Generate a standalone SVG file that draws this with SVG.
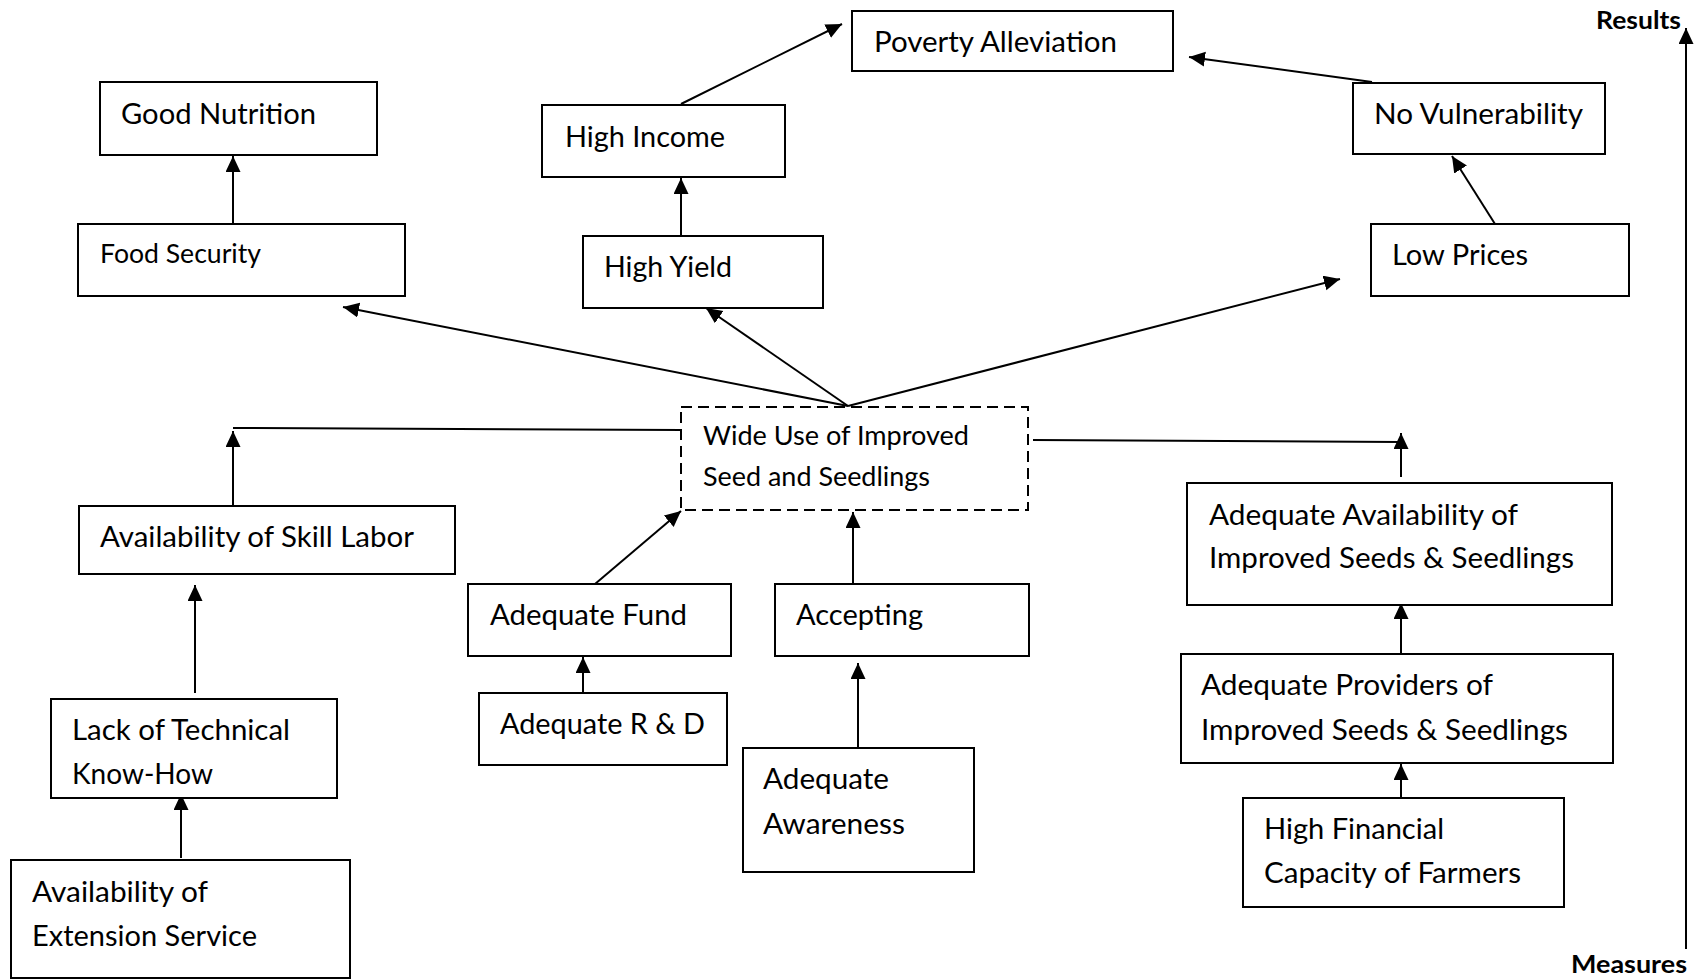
<svg xmlns="http://www.w3.org/2000/svg" width="1695" height="979" viewBox="0 0 1695 979">
  <style>
    .box { fill: #ffffff; stroke: #000000; stroke-width: 2; }
    .dash { fill: #ffffff; stroke: #000000; stroke-width: 2; stroke-dasharray: 11 6; }
    .lbl { font-family: Lato, "Open Sans", "Liberation Sans", sans-serif; font-size: 29px; fill: #000000; }
    .sm { font-size: 26.5px; }
    .axis { font-family: Lato, "Liberation Sans", sans-serif; font-size: 25px; font-weight: bold; fill: #000000; }
    .edge { fill: none; stroke: #000000; stroke-width: 2; }
    .arr { marker-end: url(#head); }
  </style>
  <defs>
    <marker id="head" markerUnits="userSpaceOnUse" markerWidth="18" markerHeight="16" refX="16" refY="7.5" orient="auto">
      <path d="M0,0 L16,7.5 L0,15 Z" fill="#000000"/>
    </marker>
  </defs>
  <rect width="1695" height="979" fill="#ffffff"/>

  <!-- connectors -->
  <g id="connectors">
    <line class="edge arr" x1="233" y1="224" x2="233" y2="156"/>
    <line class="edge arr" x1="681" y1="236" x2="681" y2="178"/>
    <line class="edge arr" x1="681" y1="104" x2="842" y2="24"/>
    <line class="edge arr" x1="1372" y1="82" x2="1189" y2="57"/>
    <line class="edge arr" x1="1495" y1="224" x2="1452" y2="156"/>
    <line class="edge arr" x1="848" y1="406" x2="343" y2="307"/>
    <line class="edge arr" x1="848" y1="406" x2="706" y2="308"/>
    <line class="edge arr" x1="848" y1="406" x2="1340" y2="279"/>
    <line class="edge" x1="682" y1="430" x2="233" y2="428"/>
    <line class="edge arr" x1="233" y1="507" x2="233" y2="431"/>
    <line class="edge" x1="1033" y1="440" x2="1401" y2="442"/>
    <line class="edge arr" x1="1401" y1="477" x2="1401" y2="433"/>
    <line class="edge arr" x1="595" y1="584" x2="681" y2="511"/>
    <line class="edge arr" x1="853" y1="584" x2="853" y2="512"/>
    <line class="edge arr" x1="583" y1="693" x2="583" y2="657"/>
    <line class="edge arr" x1="858" y1="748" x2="858" y2="663"/>
    <line class="edge arr" x1="195" y1="693" x2="195" y2="585"/>
    <line class="edge arr" x1="181" y1="858" x2="181" y2="794"/>
    <line class="edge arr" x1="1401" y1="654" x2="1401" y2="603"/>
    <line class="edge arr" x1="1401" y1="798" x2="1401" y2="764"/>
    <line class="edge arr" x1="1686" y1="949" x2="1686" y2="28"/>
  </g>

  <!-- result nodes -->
  <g id="poverty-alleviation">
    <rect class="box" x="852" y="11" width="321" height="60"/>
    <text class="lbl" x="874" y="52" textLength="243" lengthAdjust="spacingAndGlyphs">Poverty Alleviation</text>
  </g>
  <g id="good-nutrition">
    <rect class="box" x="100" y="82" width="277" height="73"/>
    <text class="lbl" x="121" y="124" textLength="195" lengthAdjust="spacingAndGlyphs">Good Nutrition</text>
  </g>
  <g id="high-income">
    <rect class="box" x="542" y="105" width="243" height="72"/>
    <text class="lbl" x="565" y="147" textLength="160" lengthAdjust="spacingAndGlyphs">High Income</text>
  </g>
  <g id="no-vulnerability">
    <rect class="box" x="1353" y="83" width="252" height="71"/>
    <text class="lbl" x="1374" y="124" textLength="209" lengthAdjust="spacingAndGlyphs">No Vulnerability</text>
  </g>
  <g id="food-security">
    <rect class="box" x="78" y="224" width="327" height="72"/>
    <text class="lbl sm" x="100" y="263" textLength="161" lengthAdjust="spacingAndGlyphs">Food Security</text>
  </g>
  <g id="high-yield">
    <rect class="box" x="583" y="236" width="240" height="72"/>
    <text class="lbl" x="604" y="277" textLength="128" lengthAdjust="spacingAndGlyphs">High Yield</text>
  </g>
  <g id="low-prices">
    <rect class="box" x="1371" y="224" width="258" height="72"/>
    <text class="lbl" x="1392" y="265" textLength="136" lengthAdjust="spacingAndGlyphs">Low Prices</text>
  </g>

  <!-- central node -->
  <g id="wide-use">
    <rect class="dash" x="681" y="407" width="347" height="103"/>
    <text class="lbl sm" x="703" y="445" textLength="266" lengthAdjust="spacingAndGlyphs">Wide Use of Improved</text>
    <text class="lbl sm" x="703" y="486" textLength="227" lengthAdjust="spacingAndGlyphs">Seed and Seedlings</text>
  </g>

  <!-- measure nodes -->
  <g id="skill-labor">
    <rect class="box" x="79" y="506" width="376" height="68"/>
    <text class="lbl" x="100" y="547" textLength="314" lengthAdjust="spacingAndGlyphs">Availability of Skill Labor</text>
  </g>
  <g id="adequate-fund">
    <rect class="box" x="468" y="584" width="263" height="72"/>
    <text class="lbl" x="490" y="625" textLength="197" lengthAdjust="spacingAndGlyphs">Adequate Fund</text>
  </g>
  <g id="accepting">
    <rect class="box" x="775" y="584" width="254" height="72"/>
    <text class="lbl" x="796" y="625" textLength="127" lengthAdjust="spacingAndGlyphs">Accepting</text>
  </g>
  <g id="seed-availability">
    <rect class="box" x="1187" y="483" width="425" height="122"/>
    <text class="lbl" x="1209" y="525" textLength="309" lengthAdjust="spacingAndGlyphs">Adequate Availability of</text>
    <text class="lbl" x="1209" y="568" textLength="365" lengthAdjust="spacingAndGlyphs">Improved Seeds &amp; Seedlings</text>
  </g>
  <g id="research-development">
    <rect class="box" x="479" y="693" width="248" height="72"/>
    <text class="lbl" x="500" y="734" textLength="205" lengthAdjust="spacingAndGlyphs">Adequate R &amp; D</text>
  </g>
  <g id="technical-know-how">
    <rect class="box" x="51" y="699" width="286" height="99"/>
    <text class="lbl" x="72" y="740" textLength="218" lengthAdjust="spacingAndGlyphs">Lack of Technical</text>
    <text class="lbl" x="72" y="784" textLength="141" lengthAdjust="spacingAndGlyphs">Know-How</text>
  </g>
  <g id="seed-providers">
    <rect class="box" x="1181" y="654" width="432" height="109"/>
    <text class="lbl" x="1201" y="695" textLength="292" lengthAdjust="spacingAndGlyphs">Adequate Providers of</text>
    <text class="lbl" x="1201" y="740" textLength="367" lengthAdjust="spacingAndGlyphs">Improved Seeds &amp; Seedlings</text>
  </g>
  <g id="awareness">
    <rect class="box" x="743" y="748" width="231" height="124"/>
    <text class="lbl" x="763" y="789" textLength="126" lengthAdjust="spacingAndGlyphs">Adequate</text>
    <text class="lbl" x="763" y="834" textLength="142" lengthAdjust="spacingAndGlyphs">Awareness</text>
  </g>
  <g id="financial-capacity">
    <rect class="box" x="1243" y="798" width="321" height="109"/>
    <text class="lbl" x="1264" y="839" textLength="180" lengthAdjust="spacingAndGlyphs">High Financial</text>
    <text class="lbl" x="1264" y="883" textLength="257" lengthAdjust="spacingAndGlyphs">Capacity of Farmers</text>
  </g>
  <g id="extension-service">
    <rect class="box" x="11" y="860" width="339" height="118"/>
    <text class="lbl" x="32" y="902" textLength="176" lengthAdjust="spacingAndGlyphs">Availability of</text>
    <text class="lbl" x="32" y="946" textLength="225" lengthAdjust="spacingAndGlyphs">Extension Service</text>
  </g>

  <!-- scale axis labels -->
  <g id="axis-labels">
    <text class="axis" x="1596" y="29" textLength="85" lengthAdjust="spacingAndGlyphs">Results</text>
    <text class="axis" x="1571" y="973" textLength="116" lengthAdjust="spacingAndGlyphs">Measures</text>
  </g>
</svg>
